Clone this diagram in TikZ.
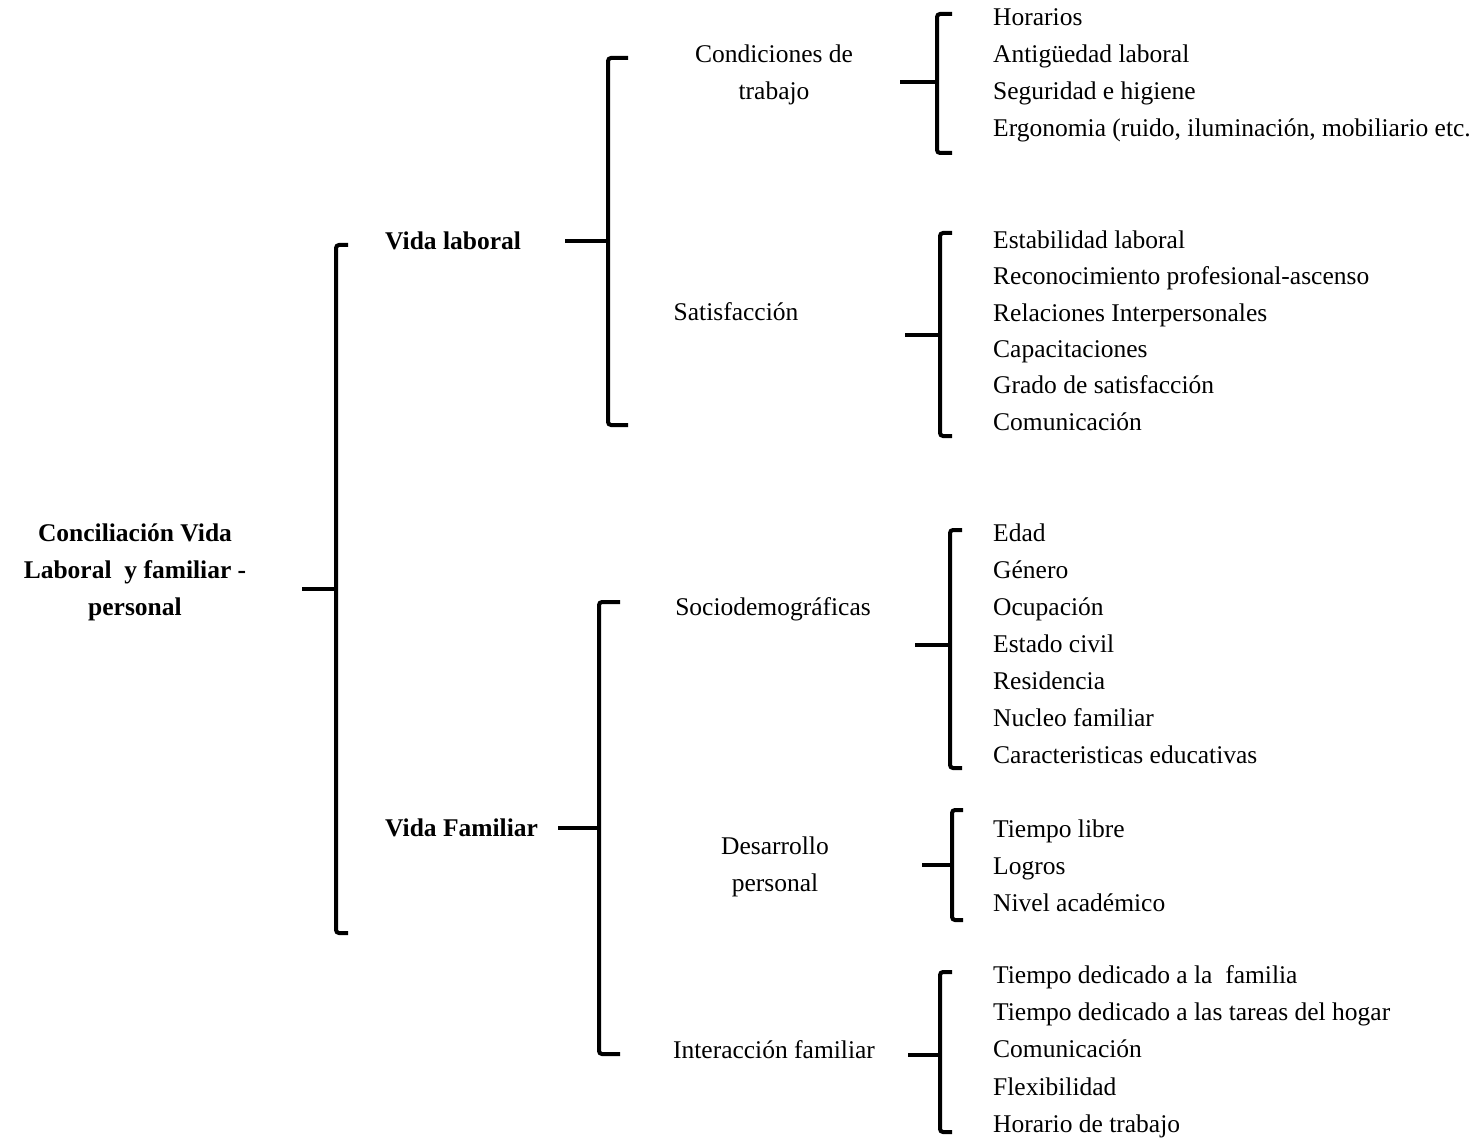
\documentclass[tikz,border=0pt]{standalone}
\usepackage{fontspec}
\setmainfont{Liberation Serif}
\begin{document}
\begin{tikzpicture}[x=1pt,y=-1pt,
  lbl/.style={inner sep=0pt, font=\fontsize{25.5}{37}\selectfont, align=center},
  boldlbl/.style={inner sep=0pt, font=\fontsize{25.5}{37}\selectfont\bfseries, align=center},
  item/.style={inner sep=0pt, font=\fontsize{25.5}{37}\selectfont, anchor=base west},
  brk/.style={line width=4pt, rounded corners=3pt},
  tickline/.style={line width=4pt}]
\useasboundingbox (0,0) rectangle (1475,1139);

% ---- labels ----
\node[boldlbl] (root) at (135,572) {Conciliación Vida\\Laboral\ \ y familiar -\\personal};
\node[boldlbl, anchor=base west] (vl) at (385,249.5) {Vida laboral};
\node[boldlbl, anchor=base west] (vf) at (385,836.5) {Vida Familiar};
\node[lbl] (cond) at (774,75) {Condiciones de\\trabajo};
\node[lbl, anchor=base] (sat) at (736,320.5) {Satisfacción};
\node[lbl, anchor=base] (soc) at (773,615.5) {Sociodemográficas};
\node[lbl] (des) at (775,867) {Desarrollo\\personal};
\node[lbl, anchor=base] (inter) at (774,1058.5) {Interacción familiar};

% ---- items ----
\foreach \t [count=\i] in {Horarios, Antigüedad laboral, Seguridad e higiene, {Ergonomia (ruido, iluminación, mobiliario etc.}}
  \node[item] (a\i) at (993,{25.5+37*(\i-1)}) {\t};
\foreach \t [count=\i] in {Estabilidad laboral, Reconocimiento profesional-ascenso, Relaciones Interpersonales, Capacitaciones, Grado de satisfacción, Comunicación}
  \node[item] (b\i) at (993,{248.5+36.3*(\i-1)}) {\t};
\foreach \t [count=\i] in {Edad, Género, Ocupación, Estado civil, Residencia, Nucleo familiar, Caracteristicas educativas}
  \node[item] (s\i) at (993,{541.5+37*(\i-1)}) {\t};
\foreach \t [count=\i] in {Tiempo libre, Logros, Nivel académico}
  \node[item] (d\i) at (993,{837.5+37*(\i-1)}) {\t};
\foreach \t [count=\i] in {Tiempo dedicado a la\ \ familia, Tiempo dedicado a las tareas del hogar, Comunicación, Flexibilidad, Horario de trabajo}
  \node[item] (f\i) at (993,{983.5+37.2*(\i-1)}) {\t};

% ---- braces ----
\draw[brk] (348,245) -- (336,245) -- (336,933) -- (348,933);
\draw[brk] (628,58) -- (608,58) -- (608,425) -- (628,425);
\draw[brk] (620,602) -- (599,602) -- (599,1054) -- (620,1054);
\draw[brk] (952,14) -- (937,14) -- (937,153) -- (952,153);
\draw[brk] (952,233) -- (940,233) -- (940,436) -- (952,436);
\draw[brk] (962,530) -- (950,530) -- (950,768) -- (962,768);
\draw[brk] (963,810) -- (952,810) -- (952,920) -- (963,920);
\draw[brk] (952,972) -- (940,972) -- (940,1132) -- (952,1132);

% ---- tick coordinates ----
\coordinate (r0) at (302,589);  \coordinate (r1) at (336,589);
\coordinate (vl0) at (565,241); \coordinate (vl1) at (608,241);
\coordinate (vf0) at (558,828); \coordinate (vf1) at (599,828);
\coordinate (c0) at (900,82);   \coordinate (c1) at (937,82);
\coordinate (sa0) at (905,335); \coordinate (sa1) at (940,335);
\coordinate (so0) at (915,645); \coordinate (so1) at (950,645);
\coordinate (de0) at (922,865); \coordinate (de1) at (952,865);
\coordinate (in0) at (908,1055);\coordinate (in1) at (940,1055);

\foreach \p in {r,vl,vf,c,sa,so,de,in}
  \draw[tickline] (\p0) -- (\p1);
\end{tikzpicture}
\end{document}
